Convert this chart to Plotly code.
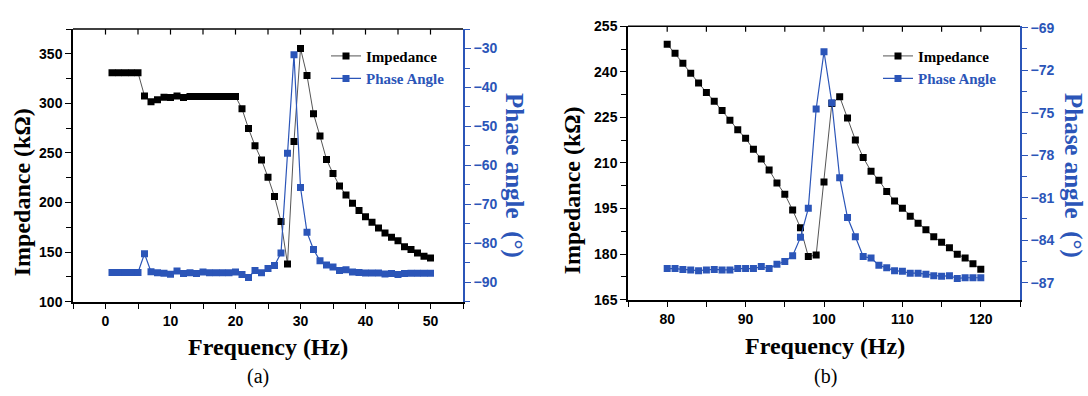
import plotly.graph_objects as go

# ---------------- data ----------------
freq_a = list(range(1, 51))
imp_a = [331, 331, 331, 331, 331, 307.6, 301.7, 303.7, 306.3, 306,
         307.5, 306, 307, 307, 307, 307, 307, 307, 307, 307,
         294.6, 274.6, 257.4, 243, 225.4, 206, 180.8, 138.1, 261.6, 355.4,
         328.2, 289.5, 267.1, 243.5, 229.3, 216.7, 207.7, 199.3, 191.9, 185.7,
         180.2, 174.4, 169.2, 165, 161.4, 155.3, 152.7, 149.2, 145.9, 144]
phase_a = [-87.5, -87.5, -87.5, -87.5, -87.5, -82.7, -87.3, -87.6, -87.7, -87.95,
           -87.1, -87.8, -87.6, -87.8, -87.4, -87.6, -87.6, -87.6, -87.6, -87.4,
           -88.0, -88.8, -87.0, -87.6, -86.5, -85.7, -82.5, -56.9, -31.6, -65.7,
           -77.2, -81.6, -84.5, -85.6, -86.1, -87.0, -86.8, -87.4, -87.5, -87.65,
           -87.65, -87.65, -87.9, -87.8, -88.0, -87.8, -87.7, -87.7, -87.7, -87.7]

freq_b = list(range(80, 121))
imp_b = [249.1, 246.1, 242.8, 239.5, 236.3, 233.2, 230.3, 227.3, 224.1, 220.9,
         218.1, 214.5, 211.3, 207.7, 203.4, 199.7, 194.5, 188.7, 179.2, 179.7,
         203.7, 229.6, 231.8, 224.8, 217.6, 211.8, 207.3, 204.3, 200.6, 197.5,
         195.1, 192.5, 190.2, 188.0, 185.7, 183.9, 182.1, 180.0, 178.7, 176.8, 175.0]
phase_b = [-86.0, -86.0, -86.06, -86.1, -86.15, -86.1, -86.06, -86.1, -86.1, -86.0,
           -86.0, -86.0, -85.86, -86.0, -85.7, -85.5, -85.1, -83.8, -81.75, -74.74,
           -70.7, -74.3, -79.6, -82.4, -83.76, -85.15, -85.26, -85.77, -85.95, -86.15,
           -86.2, -86.33, -86.33, -86.4, -86.5, -86.55, -86.5, -86.7, -86.65, -86.65, -86.65]

# top-frame tick positions (every 5 units)
top_ticks_a = list(range(0, 55, 5))
top_ticks_b = list(range(80, 125, 5))

# ---------------- style ----------------
BLUE = "#2b55b8"
BLACK = "#000000"
SERIF = "Liberation Serif, Times New Roman, serif"
SANS = "Liberation Sans, Arial, sans-serif"
W, H = 1088, 396

def px(x):
    return x / W

def py(y):
    return 1 - y / H

fig = go.Figure()

mk = dict(symbol="square", size=7)
fig.add_trace(go.Scatter(x=freq_a, y=imp_a, mode="lines+markers", name="<b>Impedance</b>",
                         line=dict(color="#555555", width=1), marker=dict(color=BLACK, **mk),
                         xaxis="x", yaxis="y", legend="legend"))
fig.add_trace(go.Scatter(x=freq_a, y=phase_a, mode="lines+markers",
                         name='<b><span style="color:%s">Phase Angle</span></b>' % BLUE,
                         line=dict(color=BLUE, width=1.2), marker=dict(color=BLUE, **mk),
                         xaxis="x", yaxis="y2", legend="legend"))
fig.add_trace(go.Scatter(x=freq_b, y=imp_b, mode="lines+markers", name="<b>Impedance</b>",
                         line=dict(color="#555555", width=1), marker=dict(color=BLACK, **mk),
                         xaxis="x2", yaxis="y3", legend="legend2"))
fig.add_trace(go.Scatter(x=freq_b, y=phase_b, mode="lines+markers",
                         name='<b><span style="color:%s">Phase Angle</span></b>' % BLUE,
                         line=dict(color=BLUE, width=1.2), marker=dict(color=BLUE, **mk),
                         xaxis="x2", yaxis="y4", legend="legend2"))

tickfont_k = dict(family=SANS, size=14, color=BLACK, weight="bold")
tickfont_b = dict(family=SANS, size=14, color=BLUE, weight="bold")

dom_xa = [px(73), px(463)]
dom_ya = [py(306), py(22)]
dom_xb = [px(628), px(1020)]
dom_yb = [py(304), py(19)]

common_ax = dict(showgrid=False, zeroline=False, showline=True, linewidth=1.5,
                 ticks="outside", ticklen=6, tickwidth=1.2)

fig.update_layout(
    width=W, height=H, margin=dict(l=0, r=0, t=0, b=0),
    paper_bgcolor="white", plot_bgcolor="white",
    xaxis=dict(domain=dom_xa, anchor="y", range=[-5, 55], dtick=10, tick0=0,
               linecolor=BLACK, tickcolor=BLACK, tickfont=tickfont_k,
               minor=dict(dtick=5, tick0=0, ticks="outside", ticklen=6, tickcolor=BLACK),
               **common_ax),
    yaxis=dict(domain=dom_ya, anchor="x", range=[100, 375], dtick=50, tick0=100,
               linecolor=BLACK, tickcolor=BLACK, tickfont=tickfont_k,
               minor=dict(dtick=25, tick0=100, ticks="outside", ticklen=5, tickcolor=BLACK),
               **common_ax),
    yaxis2=dict(domain=dom_ya, anchor="x", overlaying="y", side="right", range=[-95, -25],
                dtick=10, tick0=-90, linecolor=BLUE, tickcolor=BLUE, tickfont=tickfont_b,
                minor=dict(dtick=5, tick0=-90, ticks="outside", ticklen=5, tickcolor=BLUE),
                **common_ax),
    xaxis2=dict(domain=dom_xb, anchor="y3", range=[75, 125], dtick=10, tick0=80,
                linecolor=BLACK, tickcolor=BLACK, tickfont=tickfont_k,
                minor=dict(dtick=5, tick0=80, ticks="outside", ticklen=6, tickcolor=BLACK),
                **common_ax),
    yaxis3=dict(domain=dom_yb, anchor="x2", range=[165, 255], dtick=15, tick0=165,
                linecolor=BLACK, tickcolor=BLACK, tickfont=tickfont_k,
                minor=dict(dtick=7.5, tick0=165, ticks="outside", ticklen=5, tickcolor=BLACK),
                **common_ax),
    yaxis4=dict(domain=dom_yb, anchor="x2", overlaying="y3", side="right", range=[-88.2, -68.9],
                dtick=3, tick0=-87, linecolor=BLUE, tickcolor=BLUE, tickfont=tickfont_b,
                minor=dict(dtick=1.5, tick0=-87, ticks="outside", ticklen=5, tickcolor=BLUE),
                **common_ax),
    legend=dict(x=px(326), y=py(33), xanchor="left", yanchor="top", bgcolor="rgba(0,0,0,0)",
                font=dict(family=SERIF, size=15, color=BLACK),
                itemwidth=30, tracegroupgap=0, borderwidth=0),
    legend2=dict(x=px(878), y=py(33), xanchor="left", yanchor="top", bgcolor="rgba(0,0,0,0)",
                 font=dict(family=SERIF, size=15, color=BLACK),
                 itemwidth=30, tracegroupgap=0, borderwidth=0),
    showlegend=True,
)

# top frame line and inward ticks
for xr, yr, ticks in (("x", "y", top_ticks_a), ("x2", "y3", top_ticks_b)):
    fig.add_shape(type="line", xref=xr + " domain", yref=yr + " domain",
                  x0=0, x1=1, y0=1, y1=1, line=dict(color=BLACK, width=1.5), layer="above")
    for t in ticks:
        fig.add_shape(type="line", xref=xr, yref=yr + " domain", x0=t, x1=t,
                      y0=1, y1=0.98, line=dict(color=BLACK, width=1.2), layer="above")

title_font = dict(family=SERIF, size=24, color=BLACK)
title_font_b = dict(family=SERIF, size=25, color=BLUE)
ann = [
    dict(text="<b>Frequency (Hz)</b>", x=px(268), y=py(353), font=title_font),
    dict(text="<b>Frequency (Hz)</b>", x=px(825), y=py(352), font=title_font),
    dict(text="(a)", x=px(258), y=py(384), font=dict(family=SERIF, size=20, color=BLACK)),
    dict(text="(b)", x=px(825), y=py(384), font=dict(family=SERIF, size=20, color=BLACK)),
    dict(text="<b>Impedance (kΩ)</b>", x=px(22), y=py(192), textangle=-90, font=title_font),
    dict(text="<b>Impedance (kΩ)</b>", x=px(572), y=py(190), textangle=-90, font=title_font),
    dict(text="<b>Phase angle  (°)</b>", x=px(514), y=py(174), textangle=90, font=title_font_b),
    dict(text="<b>Phase angle  (°)</b>", x=px(1073), y=py(174), textangle=90, font=title_font_b),
]
for a in ann:
    fig.add_annotation(xref="paper", yref="paper", showarrow=False,
                       xanchor="center", yanchor="middle", **a)

fig.write_html("out.html")
